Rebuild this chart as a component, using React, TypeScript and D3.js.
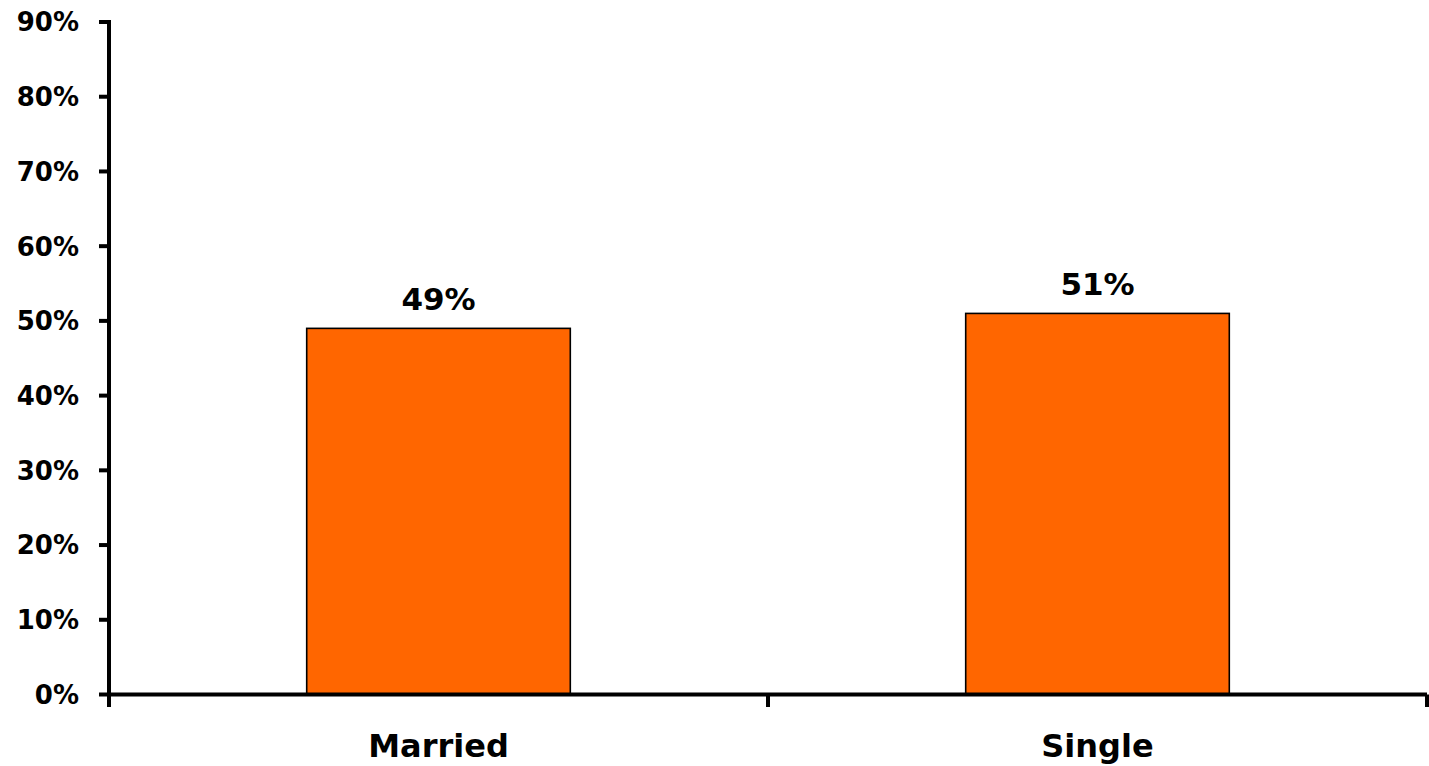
import React from "react";
import * as d3 from "d3";

const categories = ["Married", "Single"];
const values = [49, 51];
const yTicks = [0, 10, 20, 30, 40, 50, 60, 70, 80, 90];

const W = 1429;
const H = 766;
const FONT = "'DejaVu Sans', sans-serif";

export default function App() {
  const x0 = 109;
  const x1 = 1427;
  const y0 = 694.5;
  const y1 = 22;
  const x = d3.scaleBand<string>().domain(categories).range([x0, x1]).paddingInner(0.6).paddingOuter(0.3);
  const y = d3.scaleLinear().domain([0, 90]).range([y0, y1]);
  const step = x.step();
  const bounds = d3.range(categories.length + 1).map((i) => x0 + i * step);

  return (
    <svg width={W} height={H} style={{ position: "absolute", left: 0, top: 0, background: "#fff" }}>
      {categories.map((c, i) => (
        <rect
          key={c}
          x={x(c)!}
          y={y(values[i])}
          width={x.bandwidth()}
          height={y0 - y(values[i])}
          fill="#FF6600"
          stroke="#000"
          strokeWidth={1.6}
        />
      ))}
      {categories.map((c, i) => (
        <text
          key={c + "l"}
          x={x(c)! + x.bandwidth() / 2}
          y={y(values[i]) - 18}
          textAnchor="middle"
          fontFamily={FONT}
          fontWeight="bold"
          fontSize={31}
          fill="#000"
        >
          {values[i]}%
        </text>
      ))}
      {/* y axis */}
      <line x1={x0} x2={x0} y1={y1 - 2} y2={707} stroke="#000" strokeWidth={4} />
      {yTicks.map((t) => (
        <g key={t}>
          <line x1={99} x2={x0} y1={y(t)} y2={y(t)} stroke="#000" strokeWidth={4} />
          <text
            x={79}
            y={y(t)}
            dy="0.36em"
            textAnchor="end"
            fontFamily={FONT}
            fontWeight="bold"
            fontSize={26}
            fill="#000"
          >
            {t}%
          </text>
        </g>
      ))}
      {/* x axis */}
      <line x1={x0} x2={x1} y1={y0} y2={y0} stroke="#000" strokeWidth={4} />
      {bounds.map((b, i) => (
        <line key={i} x1={b} x2={b} y1={y0} y2={707} stroke="#000" strokeWidth={4} />
      ))}
      {categories.map((c) => (
        <text
          key={c + "c"}
          x={x(c)! + x.bandwidth() / 2}
          y={757}
          textAnchor="middle"
          fontFamily={FONT}
          fontWeight="bold"
          fontSize={32}
          fill="#000"
        >
          {c}
        </text>
      ))}
    </svg>
  );
}
